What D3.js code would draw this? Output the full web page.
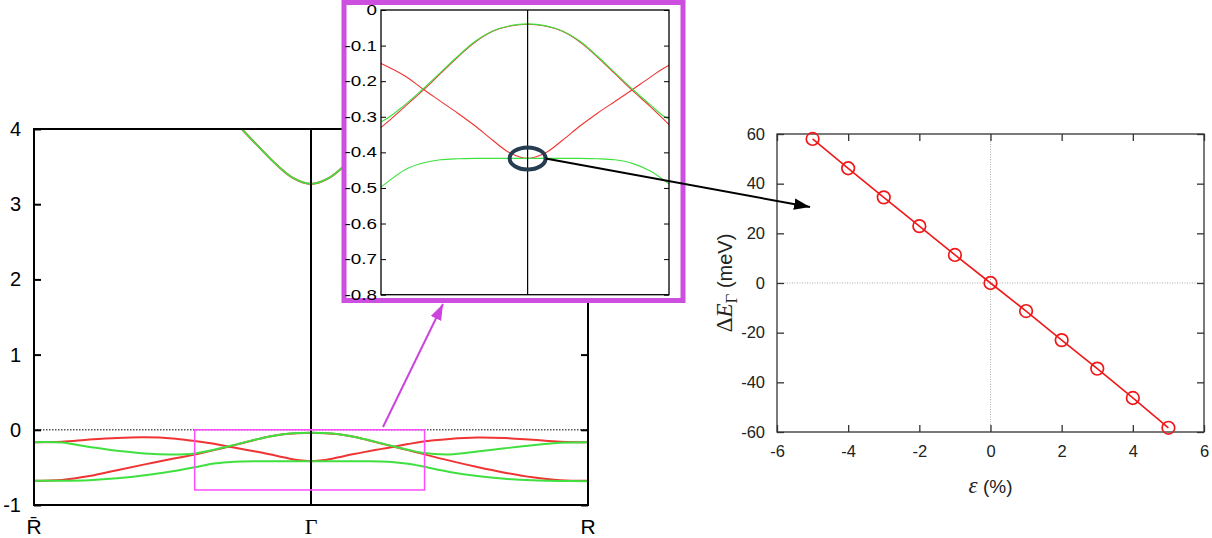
<!DOCTYPE html>
<html><head><meta charset="utf-8">
<script src="https://cdn.jsdelivr.net/npm/d3@7"></script>
<style>body{margin:0;background:#fff} svg{display:block}</style>
</head><body>
<svg id="c" width="1212" height="538"></svg>
<script>
// ---------- data ----------
const kGrid = [-1,-0.9,-0.8,-0.7,-0.6,-0.5,-0.42,-0.35,-0.3,-0.25,-0.2,-0.15,-0.1,-0.05,0,0.05,0.1,0.15,0.2,0.25,0.3,0.35,0.4,0.5,0.6,0.7,0.8,0.9,1];
const redUpper   = [-0.164,-0.159,-0.13,-0.108,-0.100,-0.115,-0.150,-0.186,-0.222,-0.256,-0.290,-0.326,-0.366,-0.402,-0.417,-0.402,-0.366,-0.326,-0.290,-0.257,-0.224,-0.190,-0.158,-0.122,-0.103,-0.110,-0.133,-0.158,-0.164];
const redLower   = [-0.678,-0.667,-0.615,-0.537,-0.460,-0.385,-0.330,-0.270,-0.226,-0.179,-0.132,-0.090,-0.060,-0.045,-0.040,-0.045,-0.060,-0.090,-0.132,-0.179,-0.226,-0.270,-0.317,-0.410,-0.495,-0.570,-0.632,-0.670,-0.678];
const greenUpper = [-0.164,-0.170,-0.228,-0.280,-0.315,-0.327,-0.314,-0.265,-0.222,-0.176,-0.130,-0.088,-0.059,-0.044,-0.039,-0.044,-0.059,-0.088,-0.130,-0.176,-0.222,-0.265,-0.304,-0.327,-0.290,-0.246,-0.205,-0.172,-0.164];
const greenLower = [-0.678,-0.678,-0.670,-0.645,-0.605,-0.550,-0.497,-0.448,-0.430,-0.421,-0.418,-0.417,-0.417,-0.417,-0.417,-0.417,-0.417,-0.417,-0.418,-0.421,-0.431,-0.452,-0.485,-0.560,-0.615,-0.652,-0.672,-0.680,-0.683];
const kHigh = [-0.25,-0.184,-0.124,-0.064,0,0.064,0.124,0.184,0.25];
const eHigh = [4.0,3.746,3.524,3.347,3.27,3.347,3.524,3.746,4.0];
const mainYTicks = [-1,0,1,2,3,4];
const kLabels = ["R\u0304","\u0393","R"];
const kLabelPos = [-1,0,1];
const zoomK = [-0.42,0.41];
const insetK = [-0.42,0.405];
const zoomE = [-0.8,0];
const insetYTicks = [0,-0.1,-0.2,-0.3,-0.4,-0.5,-0.6,-0.7,-0.8];
const strain = [-5,-4,-3,-2,-1,0,1,2,3,4,5];
const deltaE = [58.0,46.2,34.5,22.9,11.3,0,-11.3,-23.0,-34.5,-46.3,-58.3];
const strainTicks = [-6,-4,-2,0,2,4,6];
const dETicks = [-60,-40,-20,0,20,40,60];

const RED = "#f03434", GREEN = "#3fe03f";
const svg = d3.select("#c");
const defs = svg.append("defs");
const sans = "Liberation Sans, Arial, sans-serif";
const serif = "Liberation Serif, DejaVu Serif, serif";
const plain = d => String(d);

function arrowMarker(id, color) {
  defs.append("marker").attr("id", id).attr("viewBox","0 0 14 10").attr("refX",14).attr("refY",5)
    .attr("markerUnits","userSpaceOnUse").attr("markerWidth",16).attr("markerHeight",12).attr("orient","auto")
    .append("path").attr("d","M0,0L14,5L0,10Z").attr("fill",color);
}
arrowMarker("ahBlack","#000");
arrowMarker("ahPurple","#cc44dd");

// ---------- main band plot ----------
const kx = d3.scaleLinear([-1,1],[34,588]);
const ey = d3.scaleLinear([-1,4],[505,129]);
defs.append("clipPath").attr("id","clipMain").append("rect")
  .attr("x",kx(-1)).attr("y",ey(4)).attr("width",kx(1)-kx(-1)).attr("height",ey(-1)-ey(4));
const gMain = svg.append("g");
gMain.append("line").attr("x1",kx(-1)).attr("x2",kx(1)).attr("y1",ey(0)).attr("y2",ey(0))
  .attr("stroke","#555").attr("stroke-width",1.5).attr("stroke-dasharray","1.5,1.5");
const bandLine = (xs, ys, xsc, ysc) => d3.line().curve(d3.curveCatmullRom.alpha(0.5)).x((d,i)=>xsc(xs[i])).y((d,i)=>ysc(ys[i]))(xs);
function drawBands(g, xsc, ysc, w, clip) {
  const gb = g.append("g").attr("clip-path",`url(#${clip})`);
  [[redUpper,RED],[redLower,RED],[greenUpper,GREEN],[greenLower,GREEN]].forEach(([arr,col])=>{
    gb.append("path").attr("d",bandLine(kGrid,arr,xsc,ysc)).attr("fill","none").attr("stroke",col).attr("stroke-width",w);
  });
  gb.append("path").attr("d",bandLine(kHigh,eHigh,xsc,ysc)).attr("fill","none").attr("stroke",RED).attr("stroke-width",w);
  gb.append("path").attr("d",bandLine(kHigh,eHigh,xsc,ysc)).attr("fill","none").attr("stroke",GREEN).attr("stroke-width",w*0.85);
}
drawBands(gMain, kx, ey, 2, "clipMain");
gMain.append("line").attr("x1",kx(0)).attr("x2",kx(0)).attr("y1",ey(4)).attr("y2",ey(-1)).attr("stroke","#000").attr("stroke-width",2);
gMain.append("rect").attr("x",kx(zoomK[0])).attr("y",ey(zoomE[1])).attr("width",kx(zoomK[1])-kx(zoomK[0]))
  .attr("height",ey(zoomE[0])-ey(zoomE[1])).attr("fill","none").attr("stroke","#ff4cff").attr("stroke-width",1.5);
gMain.append("rect").attr("x",kx(-1)).attr("y",ey(4)).attr("width",kx(1)-kx(-1)).attr("height",ey(-1)-ey(4))
  .attr("fill","none").attr("stroke","#000").attr("stroke-width",2);
const ya = gMain.append("g").attr("transform",`translate(${kx(-1)},0)`)
  .call(d3.axisLeft(ey).tickValues(mainYTicks).tickSize(-7).tickPadding(13).tickFormat(plain));
ya.select(".domain").remove();
ya.selectAll("line").attr("stroke","#000").attr("stroke-width",2);
ya.selectAll("text").attr("font-family",sans).attr("font-size",20).attr("fill","#000");
const yaR = gMain.append("g").attr("transform",`translate(${kx(1)},0)`)
  .call(d3.axisRight(ey).tickValues(mainYTicks).tickSize(-7).tickFormat(""));
yaR.select(".domain").remove();
yaR.selectAll("line").attr("stroke","#000").attr("stroke-width",2);
gMain.selectAll(".klab").data(kLabelPos).enter().append("text")
  .attr("x",d=>kx(d)).attr("y",534).attr("text-anchor","middle")
  .attr("font-family",(d,i)=>i===1?serif:sans).attr("font-size",(d,i)=>i===1?22:21).attr("fill","#000")
  .text((d,i)=>kLabels[i]);

svg.append("line").attr("x1",383).attr("y1",427).attr("x2",443).attr("y2",304)
  .attr("stroke","#cc44dd").attr("stroke-width",2).attr("marker-end","url(#ahPurple)");

// ---------- inset ----------
const ix = d3.scaleLinear(insetK,[381,669]);
const iy = d3.scaleLinear(zoomE,[294.7,10]);
const gIn = svg.append("g");
gIn.append("rect").attr("x",344).attr("y",2.5).attr("width",339).attr("height",298).attr("fill","#fff")
  .attr("stroke","#cc4fe0").attr("stroke-width",5);
defs.append("clipPath").attr("id","clipIn").append("rect")
  .attr("x",ix.range()[0]).attr("y",iy.range()[1]).attr("width",ix.range()[1]-ix.range()[0]).attr("height",iy.range()[0]-iy.range()[1]);
drawBands(gIn, ix, iy, 1.1, "clipIn");
gIn.append("line").attr("x1",ix(0)).attr("x2",ix(0)).attr("y1",iy(0)).attr("y2",iy(-0.8)).attr("stroke","#000").attr("stroke-width",1.2);
gIn.append("rect").attr("x",ix.range()[0]).attr("y",iy.range()[1]).attr("width",ix.range()[1]-ix.range()[0])
  .attr("height",iy.range()[0]-iy.range()[1]).attr("fill","none").attr("stroke","#000").attr("stroke-width",1.3);
const iya = gIn.append("g").attr("transform",`translate(${ix.range()[0]},0)`)
  .call(d3.axisLeft(iy).tickValues(insetYTicks).tickSize(-5).tickPadding(4).tickFormat(d=>d===0?"0":d.toFixed(1)));
iya.select(".domain").remove();
iya.selectAll("line").attr("stroke","#000");
iya.selectAll("text").attr("font-family",sans).attr("font-size",14.5).attr("fill","#000")
  .attr("x",-4/1.3).attr("transform","scale(1.3,1)");
const iyaR = gIn.append("g").attr("transform",`translate(${ix.range()[1]},0)`)
  .call(d3.axisRight(iy).tickValues(insetYTicks).tickSize(-5).tickFormat(""));
iyaR.select(".domain").remove();
iyaR.selectAll("line").attr("stroke","#000");
gIn.append("ellipse").attr("cx",ix(0)).attr("cy",iy(-0.417)).attr("rx",18).attr("ry",11)
  .attr("fill","none").attr("stroke","#263c51").attr("stroke-width",4);

// ---------- right plot ----------
const sx = d3.scaleLinear([-6,6],[777,1204]);
const sy = d3.scaleLinear([-60,60],[432,134]);
const gR = svg.append("g");
gR.append("line").attr("x1",sx(0)).attr("x2",sx(0)).attr("y1",sy(60)).attr("y2",sy(-60)).attr("stroke","#aaa").attr("stroke-width",1).attr("stroke-dasharray","1,1.5");
gR.append("line").attr("x1",sx(-6)).attr("x2",sx(6)).attr("y1",sy(0)).attr("y2",sy(0)).attr("stroke","#aaa").attr("stroke-width",1).attr("stroke-dasharray","1,1.5");
const mk = (axis, tr, vals, fmt, pad) => {
  const g = gR.append("g").attr("transform",tr).call(axis.tickValues(vals).tickSize(-7).tickPadding(pad).tickFormat(fmt));
  g.select(".domain").remove();
  g.selectAll("line").attr("stroke","#333").attr("stroke-width",1.3);
  g.selectAll("text").attr("font-family",sans).attr("font-size",16.5).attr("fill","#222");
};
mk(d3.axisLeft(sy), `translate(${sx(-6)},0)`, dETicks, plain, 12);
mk(d3.axisRight(sy), `translate(${sx(6)},0)`, dETicks, "", 0);
mk(d3.axisBottom(sx), `translate(0,${sy(-60)})`, strainTicks, plain, 13);
mk(d3.axisTop(sx), `translate(0,${sy(60)})`, strainTicks, "", 0);
gR.append("rect").attr("x",sx(-6)).attr("y",sy(60)).attr("width",sx(6)-sx(-6)).attr("height",sy(-60)-sy(60))
  .attr("fill","none").attr("stroke","#333").attr("stroke-width",1.3);
gR.append("path").attr("d",d3.line().x((d,i)=>sx(strain[i])).y((d,i)=>sy(deltaE[i]))(strain))
  .attr("fill","none").attr("stroke","#f01818").attr("stroke-width",1.6);
gR.selectAll(".pt").data(strain).enter().append("circle")
  .attr("cx",d=>sx(d)).attr("cy",(d,i)=>sy(deltaE[i])).attr("r",6.3)
  .attr("fill","none").attr("stroke","#f01818").attr("stroke-width",1.7);
const yt = gR.append("text").attr("transform",`translate(732,${(sy(60)+sy(-60))/2}) rotate(-90)`)
  .attr("text-anchor","middle").attr("font-size",20).attr("fill","#222");
yt.append("tspan").attr("font-family",serif).attr("font-size",23).text("\u0394");
yt.append("tspan").attr("font-family",serif).attr("font-size",23).attr("font-style","italic").text("E");
yt.append("tspan").attr("font-family",serif).attr("font-size",17).attr("dy",5).text("\u0393");
yt.append("tspan").attr("font-family",sans).attr("dy",-5).text(" (meV)");
const xt = gR.append("text").attr("x",sx(0)).attr("y",493).attr("text-anchor","middle").attr("font-size",19).attr("fill","#222");
xt.append("tspan").attr("font-family",serif).attr("font-size",23).attr("font-style","italic").text("\u03b5");
xt.append("tspan").attr("font-family",sans).text(" (%)");

svg.append("line").attr("x1",ix(0)+18).attr("y1",iy(-0.417)).attr("x2",810).attr("y2",207)
  .attr("stroke","#000").attr("stroke-width",2).attr("marker-end","url(#ahBlack)");
</script>
</body></html>
